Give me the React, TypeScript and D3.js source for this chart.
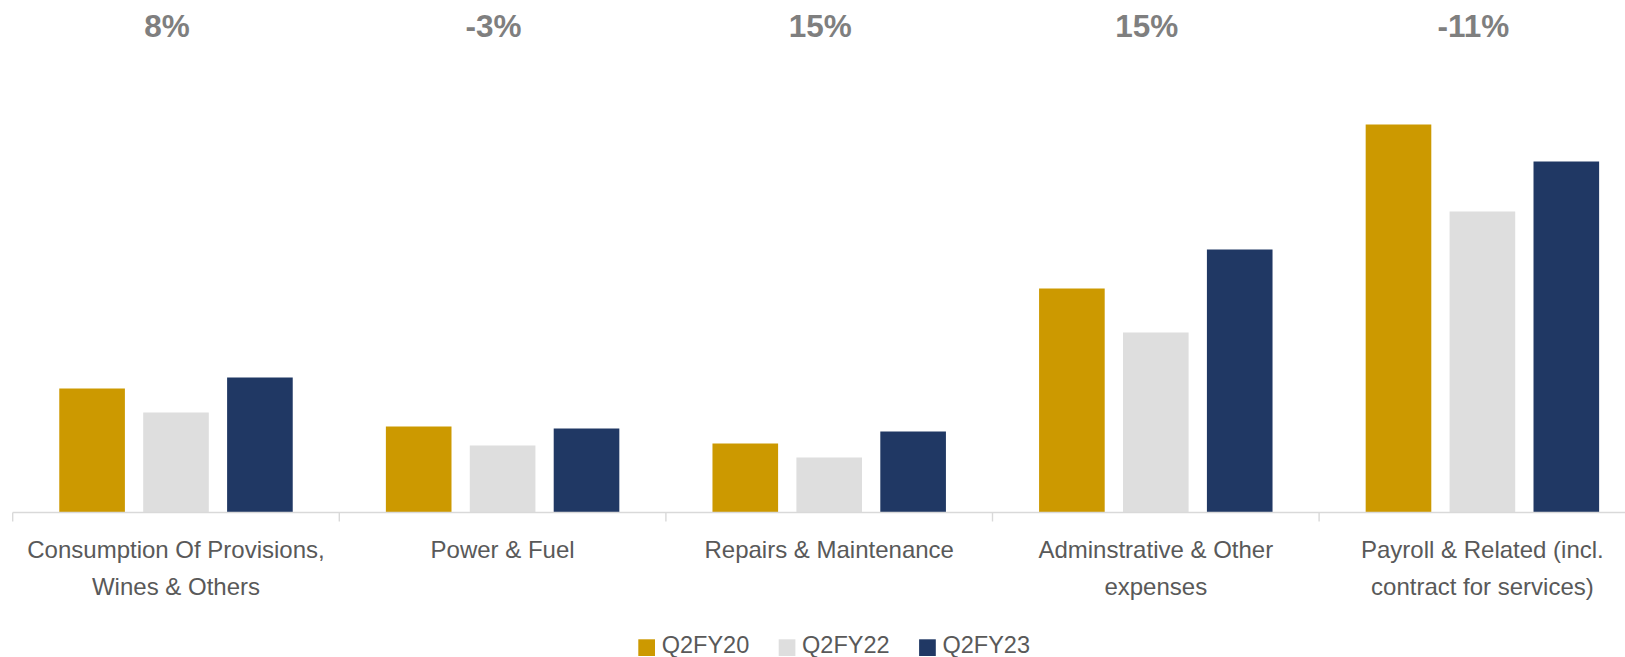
import React from "react";
import * as d3 from "d3";

const categories = [
  "Consumption Of Provisions, Wines & Others",
  "Power & Fuel",
  "Repairs & Maintenance",
  "Adminstrative & Other expenses",
  "Payroll & Related (incl. contract for services)",
];
const categoryLines = [
  ["Consumption Of Provisions,", "Wines & Others"],
  ["Power & Fuel"],
  ["Repairs & Maintenance"],
  ["Adminstrative & Other", "expenses"],
  ["Payroll & Related (incl.", "contract for services)"],
];
const series = ["Q2FY20", "Q2FY22", "Q2FY23"];
const q2fy20 = [124, 86, 69, 224, 388];
const q2fy22 = [100, 67, 55, 180, 301];
const q2fy23 = [135, 84, 81, 263, 351];
const growthLabels = ["8%", "-3%", "15%", "15%", "-11%"];
const colors = ["#CC9900", "#DEDEDE", "#203864"];

const W = 1625;
const H = 657;
const FONT = "Arial, 'Liberation Sans', Helvetica, sans-serif";

export default function App() {
  const values = [q2fy20, q2fy22, q2fy23];
  const baseY = 512.5;
  const x0 = d3.scaleBand<string>().domain(categories).range([12.7, 12.7 + 5 * 326.6]).paddingInner(0).paddingOuter(0);
  const x1 = d3
    .scaleBand<string>()
    .domain(series)
    .range([0, x0.bandwidth()])
    .paddingInner(0.218)
    .paddingOuter(0.555);
  const y = d3.scaleLinear().domain([0, 400]).range([baseY, baseY - 400]);

  const legendX = 638.3;
  const legendStep = 140.4;

  return (
    <svg
      width={W}
      height={H}
      style={{ position: "absolute", left: 0, top: 0, background: "#fff" }}
      fontFamily={FONT}
    >
      {/* growth labels */}
      {categories.map((c, i) => (
        <text
          key={"g" + c}
          x={(x0(c) as number) + x0.bandwidth() / 2 - 9}
          y={36.5}
          textAnchor="middle"
          fontSize={31.5}
          fontWeight="bold"
          fill="#7F7F7F"
        >
          {growthLabels[i]}
        </text>
      ))}

      {/* bars */}
      {categories.map((c, ci) => (
        <g key={"b" + c} transform={`translate(${x0(c)},0)`}>
          {series.map((s, si) => (
            <rect
              key={s}
              x={x1(s)}
              y={y(values[si][ci])}
              width={x1.bandwidth()}
              height={baseY - y(values[si][ci])}
              fill={colors[si]}
            />
          ))}
        </g>
      ))}

      {/* axis */}
      <line x1={x0.range()[0]} x2={x0.range()[1]} y1={baseY} y2={baseY} stroke="#D9D9D9" strokeWidth={1.4} />
      {d3.range(categories.length + 1).map((i) => {
        const tx = x0.range()[0] + i * x0.step();
        return <line key={"t" + i} x1={tx} x2={tx} y1={baseY} y2={baseY + 9} stroke="#D9D9D9" strokeWidth={1.4} />;
      })}

      {/* category labels */}
      {categories.map((c, i) => (
        <text
          key={"l" + c}
          x={(x0(c) as number) + x0.bandwidth() / 2}
          textAnchor="middle"
          fontSize={24}
          fill="#595959"
        >
          {categoryLines[i].map((line, li) => (
            <tspan key={li} x={(x0(c) as number) + x0.bandwidth() / 2} y={557.5 + li * 37}>
              {line}
            </tspan>
          ))}
        </text>
      ))}

      {/* legend */}
      {series.map((s, i) => (
        <g key={"lg" + s} transform={`translate(${legendX + i * legendStep},0)`}>
          <rect x={0} y={639.3} width={16.7} height={16.7} fill={colors[i]} />
          <text x={23.4} y={653.3} fontSize={23.5} fill="#595959">
            {s}
          </text>
        </g>
      ))}
    </svg>
  );
}
